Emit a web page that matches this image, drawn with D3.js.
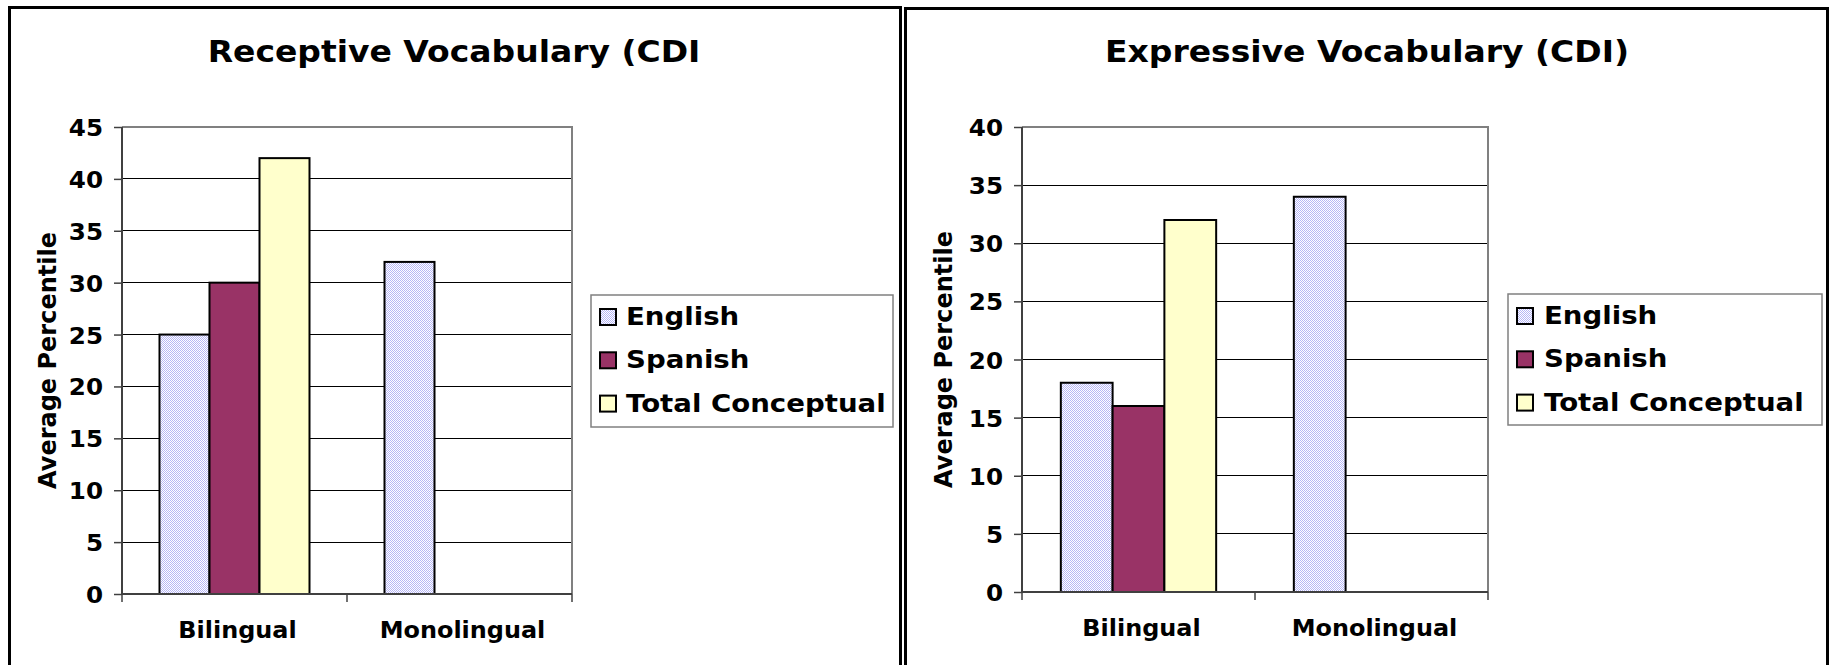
<!DOCTYPE html>
<html>
<head>
<meta charset="utf-8">
<script src="https://cdn.jsdelivr.net/npm/d3@7"></script>
<style>
  html, body { margin: 0; padding: 0; background: #fff; }
  svg { display: block; }
  text { font-family: "DejaVu Sans", Verdana, sans-serif; font-weight: bold; fill: #000; }
</style>
</head>
<body>
<svg id="chart" width="1829" height="665"></svg>
<script>
// Categories and series
const categories = ["Bilingual", "Monolingual"];
const seriesNames = ["English", "Spanish", "Total Conceptual"];
const seriesColors = ["url(#englishDots)", "#993366", "#ffffcc"];

// Average percentile per series, indexed by category (null = no bar)
const receptiveEnglish = [25, 32];
const receptiveSpanish = [30, null];
const receptiveTotal = [42, null];

const expressiveEnglish = [18, 34];
const expressiveSpanish = [16, null];
const expressiveTotal = [32, null];

// Y tick labels for each chart
const receptiveTicks = [0, 5, 10, 15, 20, 25, 30, 35, 40, 45];
const expressiveTicks = [0, 5, 10, 15, 20, 25, 30, 35, 40];

const yTitle = "Average Percentile";

const svg = d3.select("#chart");

// Checkered fill used for the English bars
const defs = svg.append("defs");
const pat = defs.append("pattern")
  .attr("id", "englishDots")
  .attr("patternUnits", "userSpaceOnUse")
  .attr("width", 2).attr("height", 2);
pat.append("rect").attr("width", 2).attr("height", 2).attr("fill", "#ffffff");
pat.append("rect").attr("x", 0).attr("y", 0).attr("width", 1).attr("height", 1).attr("fill", "#b6b6f6");
pat.append("rect").attr("x", 1).attr("y", 1).attr("width", 1).attr("height", 1).attr("fill", "#b6b6f6");

// Text helper: horizontally widened bold type
function label(g, str, x, y, size, sx, anchor) {
  return g.append("text")
    .attr("transform", `translate(${x},${y}) scale(${sx},1)`)
    .attr("text-anchor", anchor || "middle")
    .style("font-size", size + "px")
    .text(str);
}

function drawPanel(cfg) {
  const g = svg.append("g");

  // panel frame
  g.append("path")
    .attr("d", `M${cfg.frame.x0},700 V${cfg.frame.y0} H${cfg.frame.x1} V700`)
    .attr("fill", "none").attr("stroke", "#000").attr("stroke-width", 3);

  // title
  label(g, cfg.title, cfg.titleX, 62, 30, 1.1);

  const { x0, x1, yTop, yBottom } = cfg.plot;
  const y = d3.scaleLinear().domain([0, cfg.yMax]).range([yBottom, yTop]);
  const x = d3.scaleBand().domain(categories).range([x0, x1]).paddingInner(0).paddingOuter(0);
  const xs = d3.scaleBand().domain(seriesNames).range([0, x.bandwidth()])
    .paddingInner(0).paddingOuter(0.75);

  // gridlines
  g.append("g").selectAll("line")
    .data(cfg.ticks.filter(t => t > 0 && t < cfg.yMax))
    .join("line")
    .attr("x1", x0).attr("x2", x1)
    .attr("y1", d => y(d)).attr("y2", d => y(d))
    .attr("stroke", "#000").attr("stroke-width", 1)
    .attr("shape-rendering", "crispEdges");

  // plot area top and right borders
  g.append("path")
    .attr("d", `M${x0},${yTop} H${x1} V${yBottom}`)
    .attr("fill", "none").attr("stroke", "#808080").attr("stroke-width", 2);

  // bars
  const rows = [];
  cfg.values.forEach((vals, si) => {
    vals.forEach((v, ci) => {
      if (v != null) rows.push({ s: seriesNames[si], c: categories[ci], v, si });
    });
  });
  g.append("g").selectAll("rect")
    .data(rows)
    .join("rect")
    .attr("x", d => x(d.c) + xs(d.s))
    .attr("y", d => y(d.v))
    .attr("width", xs.bandwidth())
    .attr("height", d => y(0) - y(d.v))
    .attr("fill", d => seriesColors[d.si])
    .attr("stroke", "#000").attr("stroke-width", 2);

  // y axis
  const yAxis = g.append("g").attr("transform", `translate(${x0},0)`)
    .call(d3.axisLeft(y).tickValues(cfg.ticks).tickSize(8).tickFormat(d3.format("d")));
  yAxis.select(".domain").remove();
  yAxis.selectAll(".tick line").attr("stroke", "#404040").attr("stroke-width", 1.5);
  yAxis.selectAll(".tick text").remove();
  yAxis.selectAll(".tick").each(function (d) {
    label(d3.select(this), String(d), -19, 8.5, 23, 1.07, "end");
  });
  g.append("line")
    .attr("x1", x0).attr("x2", x0).attr("y1", yTop).attr("y2", yBottom)
    .attr("stroke", "#404040").attr("stroke-width", 2);

  // x axis with category dividers
  g.append("line")
    .attr("x1", x0).attr("x2", x1).attr("y1", yBottom).attr("y2", yBottom)
    .attr("stroke", "#404040").attr("stroke-width", 2);
  const edges = [x0, ...categories.slice(1).map(c => x(c)), x1];
  g.append("g").selectAll("line").data(edges).join("line")
    .attr("x1", d => d).attr("x2", d => d)
    .attr("y1", yBottom).attr("y2", yBottom + 8)
    .attr("stroke", "#404040").attr("stroke-width", 1.5);
  categories.forEach(c => {
    label(g, c, x(c) + x.bandwidth() / 2 + 3, yBottom + 44, 23, 1.04);
  });

  // y axis title
  g.append("text")
    .attr("transform", `translate(${cfg.yTitleX},${(yTop + yBottom) / 2}) rotate(-90)`)
    .attr("text-anchor", "middle")
    .style("font-size", "24px")
    .text(yTitle);

  // legend
  const L = cfg.legend;
  g.append("rect")
    .attr("x", L.x0).attr("y", L.y0)
    .attr("width", L.x1 - L.x0).attr("height", L.y1 - L.y0)
    .attr("fill", "#fff").attr("stroke", "#808080").attr("stroke-width", 1.5);
  seriesNames.forEach((s, i) => {
    const base = L.y0 + 30 + i * 43.3;
    g.append("rect")
      .attr("x", L.swatchX).attr("y", base - 16)
      .attr("width", 16).attr("height", 16)
      .attr("fill", seriesColors[i])
      .attr("stroke", "#000").attr("stroke-width", 2);
    label(g, s, L.textX, base, 24, 1.15, "start");
  });
}

drawPanel({
  title: "Receptive Vocabulary (CDI",
  titleX: 454,
  frame: { x0: 9.5, x1: 900.5, y0: 7.5 },
  plot: { x0: 122, x1: 572, yTop: 127, yBottom: 594 },
  yMax: 45,
  ticks: receptiveTicks,
  values: [receptiveEnglish, receptiveSpanish, receptiveTotal],
  yTitleX: 56,
  legend: { x0: 591, x1: 893, y0: 295, y1: 427, swatchX: 600, textX: 626 }
});

drawPanel({
  title: "Expressive Vocabulary (CDI)",
  titleX: 1367,
  frame: { x0: 905.5, x1: 1827.5, y0: 8.5 },
  plot: { x0: 1022, x1: 1488, yTop: 127, yBottom: 592 },
  yMax: 40,
  ticks: expressiveTicks,
  values: [expressiveEnglish, expressiveSpanish, expressiveTotal],
  yTitleX: 952,
  legend: { x0: 1508, x1: 1822, y0: 294, y1: 425, swatchX: 1517, textX: 1544 }
});
</script>
</body>
</html>
